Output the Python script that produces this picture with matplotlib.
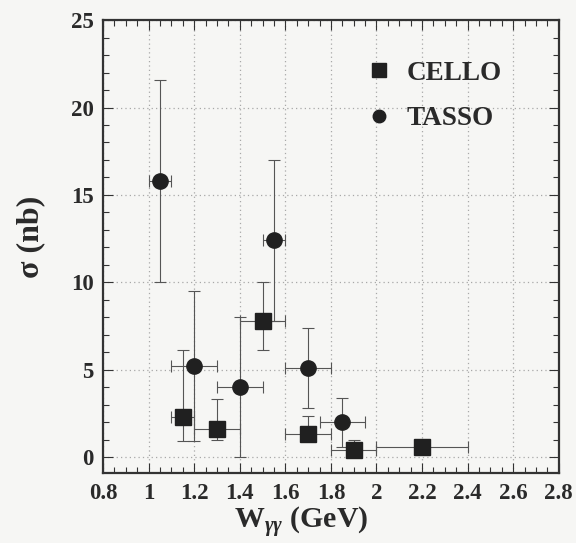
import numpy as np
import matplotlib
matplotlib.use("Agg")
import matplotlib.pyplot as plt
from matplotlib.ticker import MultipleLocator
from matplotlib.lines import Line2D

# CELLO points
cello_w = [1.15, 1.30, 1.50, 1.70, 1.90, 2.20]
cello_sig = [2.3, 1.6, 7.8, 1.35, 0.4, 0.6]
cello_wlo = [0.05, 0.10, 0.10, 0.10, 0.10, 0.20]
cello_whi = [0.05, 0.10, 0.10, 0.10, 0.10, 0.20]
cello_slo = [1.4, 0.6, 1.65, 0.45, 0.4, 0.0]
cello_shi = [3.85, 1.75, 2.2, 1.0, 0.6, 0.0]

# TASSO points
tasso_w = [1.05, 1.20, 1.40, 1.55, 1.70, 1.85]
tasso_sig = [15.8, 5.2, 4.0, 12.4, 5.1, 2.0]
tasso_wlo = [0.05, 0.10, 0.10, 0.05, 0.10, 0.10]
tasso_whi = [0.05, 0.10, 0.10, 0.05, 0.10, 0.10]
tasso_slo = [5.8, 4.3, 4.0, 4.6, 2.3, 1.4]
tasso_shi = [5.8, 4.3, 4.0, 4.6, 2.3, 1.4]

bg = '#f6f6f4'
plt.rcParams['font.family'] = ['Liberation Serif', 'DejaVu Serif']
plt.rcParams['font.weight'] = 'bold'
plt.rcParams['mathtext.fontset'] = 'custom'
plt.rcParams['mathtext.rm'] = 'Liberation Serif:bold'
plt.rcParams['mathtext.it'] = 'Liberation Serif:italic:bold'
plt.rcParams['mathtext.bf'] = 'Liberation Serif:bold'

fig = plt.figure(figsize=(5.76, 5.43), dpi=100, facecolor=bg)
ax = fig.add_axes([0.179, 0.129, 0.791, 0.834], facecolor=bg)

ax.errorbar(cello_w, cello_sig, xerr=[cello_wlo, cello_whi], yerr=[cello_slo, cello_shi],
            fmt='s', ms=11, color='#202020', ecolor='#555555', elinewidth=0.8,
            capsize=4.5, capthick=0.8, zorder=3)
ax.errorbar(tasso_w, tasso_sig, xerr=[tasso_wlo, tasso_whi], yerr=[tasso_slo, tasso_shi],
            fmt='o', ms=11, color='#202020', ecolor='#555555', elinewidth=0.8,
            capsize=4.5, capthick=0.8, zorder=3)

ax.set_xlim(0.8, 2.8)
ax.set_ylim(-0.9, 25)
ax.xaxis.set_major_locator(MultipleLocator(0.2))
ax.xaxis.set_minor_locator(MultipleLocator(0.05))
ax.yaxis.set_major_locator(MultipleLocator(5))
ax.yaxis.set_minor_locator(MultipleLocator(1))
ax.set_xticks(np.arange(0.8, 2.81, 0.2))
ax.set_xticklabels(['0.8', '1', '1.2', '1.4', '1.6', '1.8', '2', '2.2', '2.4', '2.6', '2.8'])
ax.tick_params(which='both', direction='in', top=True, right=True, color='#333333')
ax.tick_params(which='major', length=7, width=0.8, labelsize=16.5, pad=7)
ax.tick_params(which='minor', length=4, width=0.8)
for lab in ax.get_xticklabels() + ax.get_yticklabels():
    lab.set_fontweight('bold')
    lab.set_color('#2a2a2a')
for s in ax.spines.values():
    s.set_linewidth(1.6)
    s.set_color('#333333')
ax.grid(True, which='major', linestyle=(0, (1, 2.5)), color='#a8a8a8', linewidth=0.9)

ax.set_xlabel(r'W$_{\gamma\gamma}$ (GeV)', fontsize=21.5, fontweight='bold', labelpad=1,
              color='#2a2a2a', x=0.434)
ax.set_ylabel('σ (nb)', fontsize=23, fontweight='bold', labelpad=18, color='#2a2a2a',
              y=0.521)

handles = [Line2D([], [], marker='s', ls='none', ms=9.5, color='#202020'),
           Line2D([], [], marker='o', ls='none', ms=9, color='#202020')]
ax.legend(handles, ['CELLO', 'TASSO'], loc='upper left', bbox_to_anchor=(0.576, 0.91),
          frameon=False, fontsize=19.5, handlelength=1.0, handletextpad=0.5, borderpad=0,
          borderaxespad=0, labelspacing=0.75, numpoints=1, labelcolor='#2a2a2a',
          prop={'weight': 'bold', 'size': 19.5})

fig.savefig('out.png', dpi=100, facecolor=bg)
